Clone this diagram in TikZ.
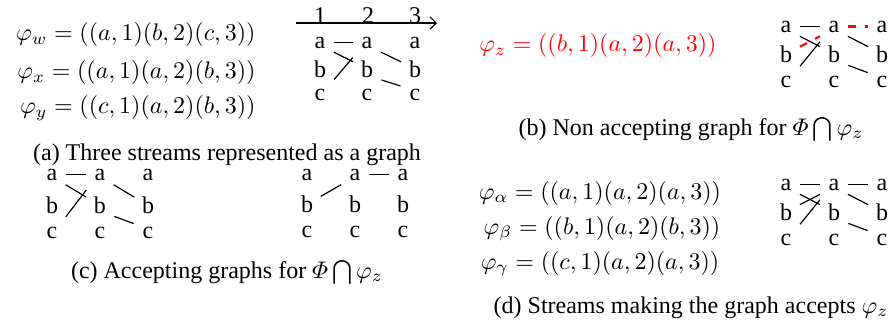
\documentclass[tikz,border=0pt]{standalone}
\usepackage{amsmath}
\usepackage[no-math]{fontspec}
\setmainfont{Liberation Serif}
\usetikzlibrary{arrows.meta}
\newcommand\mkgraph[7]{%
  \foreach \rr/\yy in {a/#5,b/#6,c/#7}{%
    \foreach \cc/\xx in {1/#2,2/#3,3/#4}{%
      \node[lt] (#1\rr\cc) at (\xx,\yy) {\rr};}}}
\begin{document}
\begin{tikzpicture}[x=0.41667pt,y=-0.41667pt,
  lt/.style={inner sep=0pt, minimum width=5pt, text height=1ex, text depth=0pt, anchor=base},
  eq/.style={inner sep=0pt, anchor=base},
  captxt/.style={inner sep=0pt, anchor=base},
  lnk/.style={line width=0.5pt},
  hz/.style={lnk, shorten <=3pt, shorten >=3pt},
  dn/.style={lnk, shorten <=3.5pt, shorten >=3.5pt},
  upc/.style={lnk, shorten <=5pt, shorten >=5pt},
  upb/.style={lnk, shorten <=3.5pt, shorten >=3.5pt},
  rdash/.style={red, line width=0.9pt, dash pattern=on 3.3pt off 3.8pt}]
\useasboundingbox (0,0) rectangle (891,326);

% (a) equations
\node[eq, anchor=base east] (pw) at (256,40.5) {$\varphi_w = ((a,1)(b,2)(c,3))$};
\node[eq, anchor=base east] (px) at (256,78.5) {$\varphi_x = ((a,1)(a,2)(b,3))$};
\node[eq, anchor=base east] (py) at (256,113.5) {$\varphi_y = ((c,1)(a,2)(b,3))$};

% (a) axis
\coordinate (ax0) at (296,23);
\coordinate (ax1) at (437,23);
\draw[lnk, -{Straight Barb[length=2.5pt,width=5pt]}] (ax0) -- (ax1);
\node[captxt] (n1) at (320,23) {1};
\node[captxt] (n2) at (368,23) {2};
\node[captxt] (n3) at (415,23) {3};

% (a) graph
\mkgraph{A}{320}{367}{415}{48}{77}{100}
\draw[hz] (Aa1.east) -- (Aa2.west);
\draw[dn] (Aa1.south east) -- (Ab2.north west);
\draw[upc] (Ac1.north east) -- (Aa2.south west);
\draw[dn] (Aa2.south east) -- (Ab3.north west);
\draw[dn] (Ab2.south east) -- (Ac3.north west);
\node[captxt] (capa) at (227,160) {(a) Three streams represented as a graph};

% (b)
\node[eq, text=red] (pz) at (598,51.5) {$\varphi_z = ((b,1)(a,2)(a,3))$};
\mkgraph{B}{786}{834}{882}{32}{62}{87}
\draw[hz] (Ba1.east) -- (Ba2.west);
\draw[dn] (Ba1.south east) -- (Bb2.north west);
\draw[upc] (Bc1.north east) -- (Ba2.south west);
\draw[dn] (Ba2.south east) -- (Bb3.north west);
\draw[dn] (Bb2.south east) -- (Bc3.north west);
\draw[hz, rdash] (Ba2.east) -- (Ba3.west);
\draw[upb, rdash] (Bb1.north east) -- (Ba2.south west);
\node[captxt] (capb) at (691,135) {(b) Non accepting graph for $\varPhi\bigcap\varphi_z$};

% (c)
\mkgraph{C}{52}{100}{148}{180}{213}{238}
\draw[hz] (Ca1.east) -- (Ca2.west);
\draw[dn] (Ca1.south east) -- (Cb2.north west);
\draw[upc] (Cc1.north east) -- (Ca2.south west);
\draw[dn] (Ca2.south east) -- (Cb3.north west);
\draw[dn] (Cb2.south east) -- (Cc3.north west);
\mkgraph{D}{307}{355}{403}{180}{212}{237}
\draw[upb] (Db1.north east) -- (Da2.south west);
\draw[hz] (Da2.east) -- (Da3.west);
\node[captxt] (capc) at (227,278) {(c) Accepting graphs for $\varPhi\bigcap\varphi_z$};

% (d)
\node[eq] (pal) at (600,199.3) {$\varphi_\alpha = ((a,1)(a,2)(a,3))$};
\node[eq] (pbe) at (602,234.3) {$\varphi_\beta = ((b,1)(a,2)(b,3))$};
\node[eq] (pga) at (600,269.3) {$\varphi_\gamma = ((c,1)(a,2)(a,3))$};
\mkgraph{E}{786}{834}{882}{190}{220}{245}
\draw[hz] (Ea1.east) -- (Ea2.west);
\draw[hz] (Ea2.east) -- (Ea3.west);
\draw[dn] (Ea1.south east) -- (Eb2.north west);
\draw[upb] (Eb1.north east) -- (Ea2.south west);
\draw[upc] (Ec1.north east) -- (Ea2.south west);
\draw[dn] (Ea2.south east) -- (Eb3.north west);
\draw[dn] (Eb2.south east) -- (Ec3.north west);
\node[captxt] (capd) at (691,313) {(d) Streams making the graph accepts $\varphi_z$};
\end{tikzpicture}
\end{document}
